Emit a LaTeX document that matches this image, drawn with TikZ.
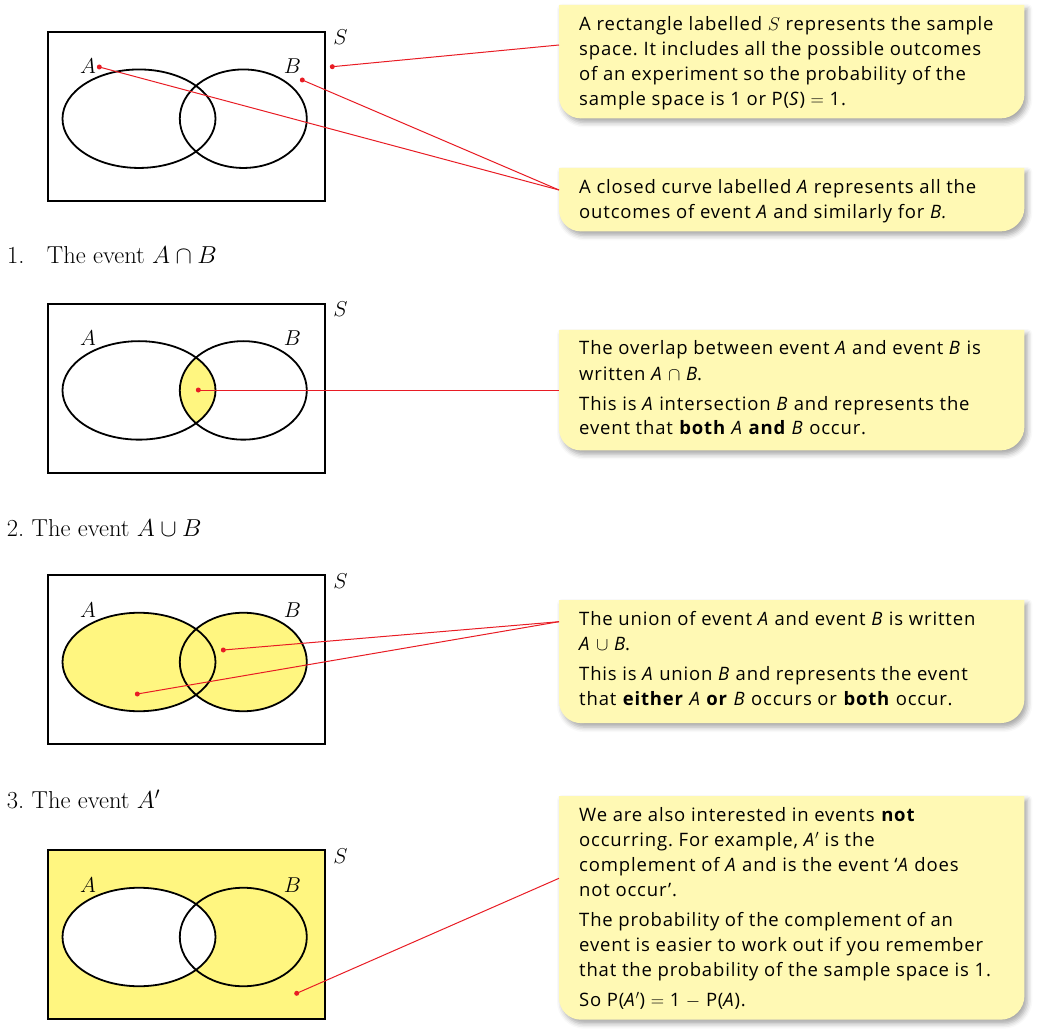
\documentclass[tikz,border=0pt]{standalone}
\usepackage{fix-cm}
\usepackage{fontspec}
\newfontfamily\boxfont[LetterSpace=4.5]{Open Sans}
\usetikzlibrary{shapes.geometric,shadows.blur}
\definecolor{boxyellow}{RGB}{255,249,180}
\definecolor{venn}{RGB}{255,246,128}
\definecolor{pointer}{RGB}{232,28,36}
\frenchspacing
\tikzset{
  frame/.style={draw=black, line width=2pt, inner sep=0pt, minimum width=277.5pt, minimum height=169pt, anchor=north west},
  setA/.style={ellipse, draw=black, line width=1.8pt, inner sep=0pt, minimum width=153pt, minimum height=98.5pt},
  setB/.style={ellipse, draw=black, line width=1.8pt, inner sep=0pt, minimum width=127pt, minimum height=98.5pt},
  setlabel/.style={anchor=base, inner sep=0pt, font=\fontsize{21.5}{22}\selectfont},
  heading/.style={anchor=base west, inner sep=0pt, font=\fontsize{24.5}{28}\selectfont},
  calloutbox/.style={anchor=north west, inner sep=0pt, minimum width=465pt},
  calloutfill/.style={fill=boxyellow, blur shadow={shadow xshift=3pt, shadow yshift=-4pt, shadow blur radius=5pt, shadow opacity=35}},
  callouttext/.style={anchor=base west, inner sep=0pt},
  dot/.style={circle, fill=pointer, inner sep=0pt, minimum size=5pt},
  pointerline/.style={draw=pointer, line width=1pt},
}
\newcommand\venndiagram[3]{%
  \begin{scope}[yshift=-#2pt]
    #3
    \node[frame] (#1S) at (46.5,0) {};
    \node[setA] (#1A) at (139,87.7) {};
    \node[setB] (#1B) at (243.3,87.7) {};
    \node[setlabel] (#1lS) at (340.5,14) {$S$};
    \node[setlabel] (#1lA) at (88,43) {$A$};
    \node[setlabel] (#1lB) at (292.5,43) {$B$};
  \end{scope}}
\newcommand\callout[3]{%
  \node[calloutbox, minimum height={(#3-#2)*1pt}] (#1) at (559,#2) {};
  \fill[calloutfill] (#1.north west) -- (#1.north east)
    -- ([yshift=24pt]#1.south east) arc[start angle=0, end angle=-90, radius=24pt]
    -- ([xshift=22pt]#1.south west) arc[start angle=-90, end angle=-180, radius=22pt]
    -- cycle;}
\newcommand\boxtext[1]{\parbox[t]{520pt}{\boxfont\fontsize{18.5}{25}\selectfont\frenchspacing\raggedright\setlength\parskip{5pt}\setlength\parindent{0pt}#1}}
\begin{document}
\begin{tikzpicture}[x=1pt, y=-1pt]
\useasboundingbox (0,0) rectangle (1045,1035);

% ---------- callout boxes ----------
\callout{c1}{5}{118}
\callout{c1b}{168}{231}
\callout{c2}{330}{450}
\callout{c3}{600}{722.7}
\callout{c4}{796}{1019.3}

\node[callouttext] (t1) at (579,31) {\boxtext{A rectangle labelled $S$ represents the sample\\
space. It includes all the possible outcomes\\
of an experiment so the probability of the\\
sample space is 1 or P(\textit{S}) $=$ 1.}};
\node[callouttext] (t1b) at (579,193.3) {\boxtext{A closed curve labelled \textit{A} represents all the\\
outcomes of event \textit{A} and similarly for \textit{B.}}};
\node[callouttext] (t2) at (579,355) {\boxtext{The overlap between event \textit{A} and event \textit{B} is\\
written \textit{A} $\cap$ \textit{B}.\par
This is \textit{A} intersection \textit{B} and represents the\\
event that \textbf{both} \textit{A} \textbf{and} \textit{B} occur.}};
\node[callouttext] (t3) at (579,625) {\boxtext{The union of event \textit{A} and event \textit{B} is written\\
\textit{A} $\cup$ \textit{B}.\par
This is \textit{A} union \textit{B} and represents the event\\
that \textbf{either} \textit{A} \textbf{or} \textit{B} occurs or \textbf{both} occur.}};
\node[callouttext] (t4) at (579,821.7) {\boxtext{We are also interested in events \textbf{not}\\
occurring. For example, \textit{A}$'$ is the\\
complement of \textit{A} and is the event ‘\textit{A} does\\
not occur’.\par
The probability of the complement of an\\
event is easier to work out if you remember\\
that the probability of the sample space is 1.\par
So P(\textit{A}$'$) $=$ 1 $-$ P(\textit{A}).}};

% ---------- headings ----------
\node[heading] (h1) at (7,264) {\makebox[39.7pt][l]{1.}The event $A\cap B$};
\node[heading] (h2) at (6.7,536) {2. The event $A\cup B$};
\node[heading] (h3) at (6.7,808.3) {3. The event $A'$};

% ---------- Venn diagrams ----------
\venndiagram{d1}{31}{}
\venndiagram{d2}{302.7}{%
  \begin{scope}
    \clip (139,87.7) ellipse [x radius=76.5pt, y radius=49.25pt];
    \fill[venn] (243.3,87.7) ellipse [x radius=63.5pt, y radius=49.25pt];
  \end{scope}}
\venndiagram{d3}{574.3}{%
  \fill[venn] (139,87.7) ellipse [x radius=76.5pt, y radius=49.25pt];
  \fill[venn] (243.3,87.7) ellipse [x radius=63.5pt, y radius=49.25pt];}
\venndiagram{d4}{849.3}{%
  \fill[venn] (46.5,0) rectangle (324,169);
  \fill[white] (139,87.7) ellipse [x radius=76.5pt, y radius=49.25pt];}

% ---------- pointers ----------
\node[dot] (p1S) at (332.3,66.7) {};
\node[dot] (p1A) at (99.3,67) {};
\node[dot] (p1B) at (302.3,80) {};
\node[dot] (p2) at (198.3,390) {};
\node[dot] (p3B) at (223.3,650) {};
\node[dot] (p3A) at (137.3,694) {};
\node[dot] (p4) at (296.7,993.3) {};
\coordinate (e1) at (559,45);
\coordinate (e1b) at (559,190);
\coordinate (e2) at (559,390);
\coordinate (e3) at (559,621.7);
\coordinate (e4) at (559,878.3);
\draw[pointerline] (p1S.center) -- (e1);
\draw[pointerline] (p1A.center) -- (e1b);
\draw[pointerline] (p1B.center) -- (e1b);
\draw[pointerline] (p2.center) -- (e2);
\draw[pointerline] (p3B.center) -- (e3);
\draw[pointerline] (p3A.center) -- (e3);
\draw[pointerline] (p4.center) -- (e4);
\end{tikzpicture}
\end{document}
